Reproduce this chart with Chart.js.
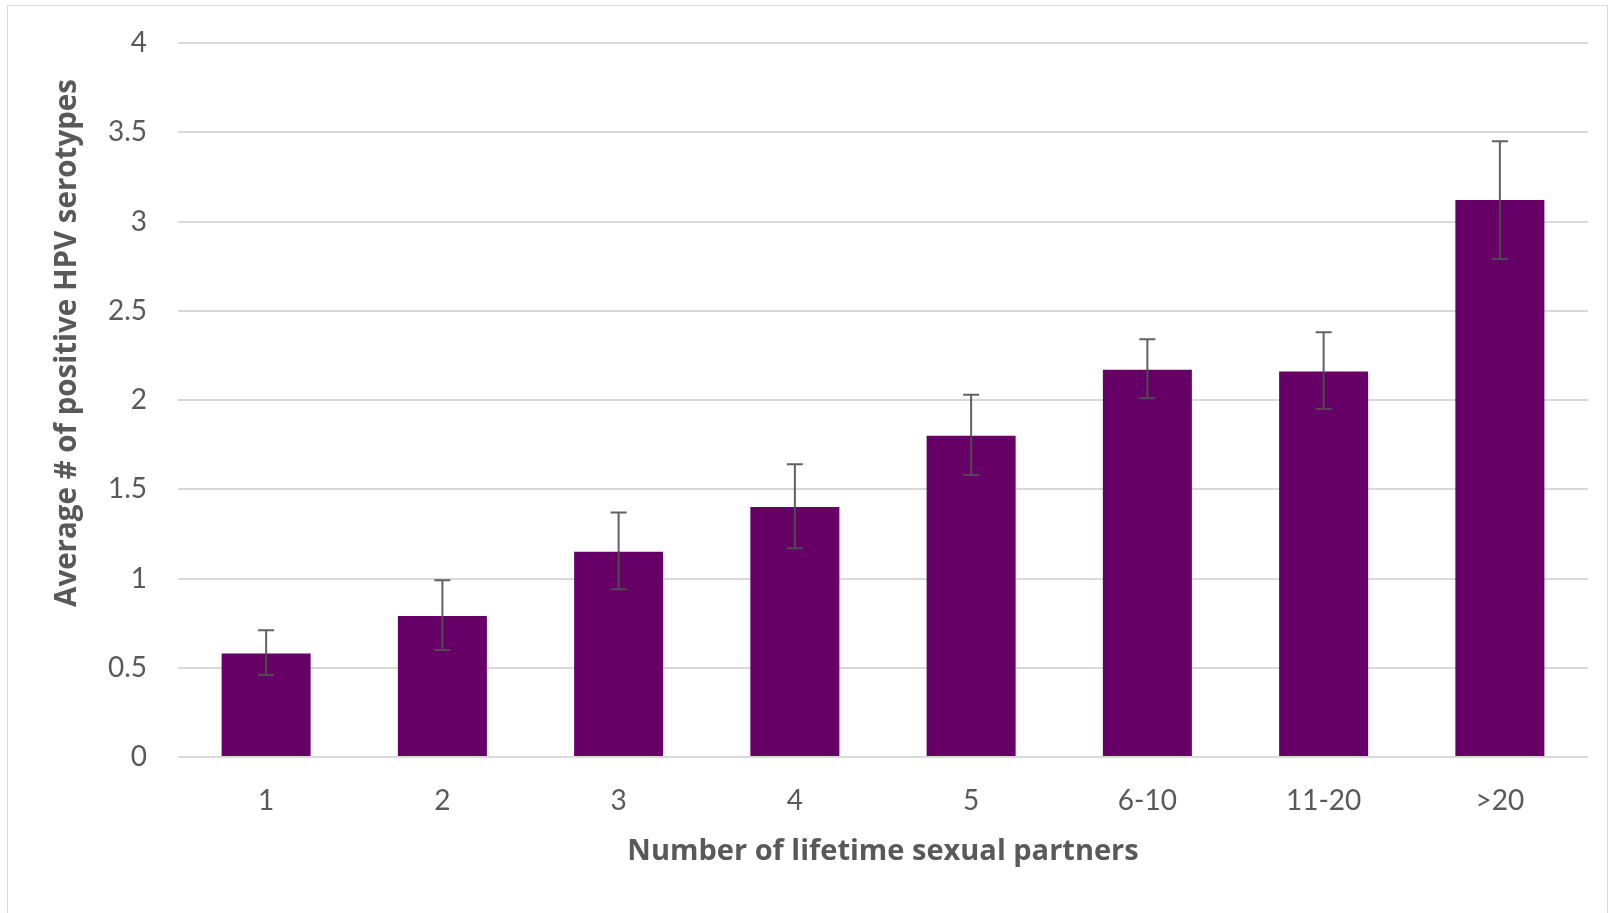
<!DOCTYPE html>
<html>
<head>
<meta charset="utf-8">
<script src="https://cdn.jsdelivr.net/npm/chart.js@4.4.1/dist/chart.umd.min.js"></script>
<style>
  body { margin: 0; background: #fff; }
  #wrap { position: relative; width: 1619px; height: 913px; }
  #frame { position: absolute; left: 7px; top: 5px; width: 1601px; height: 912px; border: 1px solid #d9d9d9; box-sizing: border-box; }
  canvas { position: absolute; left: 0; top: 0; }
</style>
</head>
<body>
<div id="wrap">
  <div id="frame"></div>
  <canvas id="barChart" width="1619" height="913"></canvas>
</div>
<script>
// data
const partners = ["1", "2", "3", "4", "5", "6-10", "11-20", ">20"];
const avgSerotypes = [0.58, 0.79, 1.15, 1.40, 1.80, 2.17, 2.16, 3.12];
const errHigh = [0.71, 0.99, 1.37, 1.64, 2.03, 2.34, 2.38, 3.45];
const errLow = [0.46, 0.60, 0.94, 1.17, 1.58, 2.01, 1.95, 2.79];
const yTicks = [0, 0.5, 1, 1.5, 2, 2.5, 3, 3.5, 4];

const grey = "#595959";
const yTitle = "Average # of positive HPV serotypes";

// error bars drawn on top of the bars
const errorBars = {
  id: "errorBars",
  afterDatasetsDraw(chart) {
    const ctx = chart.ctx;
    const meta = chart.getDatasetMeta(0);
    const y = chart.scales.y;
    ctx.save();
    ctx.strokeStyle = "rgba(80,80,80,0.9)";
    ctx.lineWidth = 2;
    meta.data.forEach((bar, i) => {
      const x = bar.x;
      const top = y.getPixelForValue(errHigh[i]);
      const bot = y.getPixelForValue(errLow[i]);
      ctx.beginPath();
      ctx.moveTo(x, top);
      ctx.lineTo(x, bot);
      ctx.moveTo(x - 8, top);
      ctx.lineTo(x + 8, top);
      ctx.moveTo(x - 8, bot);
      ctx.lineTo(x + 8, bot);
      ctx.stroke();
    });
    ctx.restore();
  }
};

// y title sits a bit above the middle in the original, so draw it by hand
const sideTitle = {
  id: "sideTitle",
  afterDraw(chart) {
    const ctx = chart.ctx;
    ctx.save();
    ctx.translate(68, 343);
    ctx.rotate(-Math.PI / 2);
    ctx.font = "bold 29.5px 'Open Sans'";
    ctx.fillStyle = grey;
    ctx.textAlign = "center";
    ctx.textBaseline = "middle";
    ctx.fillText(yTitle, 0, 0);
    ctx.restore();
  }
};

var ctx = document.getElementById("barChart").getContext("2d");
var barChart = new Chart(ctx, {
  type: "bar",
  data: {
    labels: partners,
    datasets: [
      {
        data: avgSerotypes,
        backgroundColor: "#660066",
        borderWidth: 0,
        categoryPercentage: 1,
        barPercentage: 0.505,
      },
    ],
  },
  options: {
    responsive: false,
    animation: false,
    layout: { padding: { left: 40, top: 43, right: 31, bottom: 0 } },
    plugins: {
      legend: { display: false },
      tooltip: { enabled: false },
    },
    scales: {
      x: {
        grid: { display: false, drawTicks: false },
        border: { display: false },
        ticks: {
          color: grey,
          padding: 27,
          font: { family: "Lato", size: 28 },
        },
        title: {
          display: true,
          text: "Number of lifetime sexual partners",
          color: grey,
          padding: { top: 0, bottom: 44 },
          font: { family: "Open Sans", size: 29, weight: "bold" },
        },
        afterFit(scale) {
          scale.height = 156;
        },
      },
      y: {
        min: 0,
        max: 4,
        afterBuildTicks(scale) {
          scale.ticks = yTicks.map((v) => ({ value: v }));
        },
        // invisible tick marks keep the labels away from the grid
        // without the tick padding pushing the plot top down
        grid: {
          color: "#d9d9d9",
          lineWidth: 2,
          drawTicks: true,
          tickLength: 31,
          tickColor: "rgba(0,0,0,0)",
        },
        border: { display: false },
        ticks: {
          color: grey,
          padding: 0,
          font: { family: "Lato", size: 28 },
          callback: (v) => String(v),
        },
        afterFit(scale) {
          scale.width = 138;
        },
      },
    },
  },
  plugins: [errorBars, sideTitle],
});
</script>
</body>
</html>
